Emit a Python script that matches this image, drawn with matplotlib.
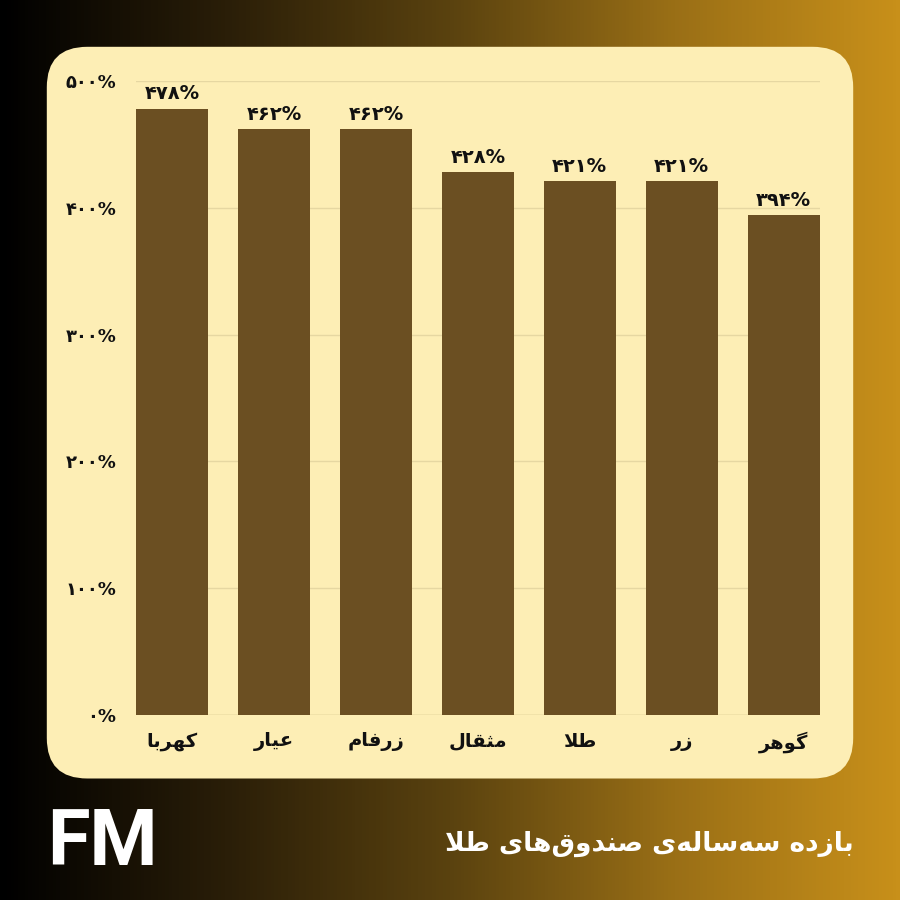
import numpy as np
import matplotlib
matplotlib.use('Agg')
import matplotlib.pyplot as plt
from matplotlib.colors import LinearSegmentedColormap
from matplotlib.patches import FancyBboxPatch

# داده‌ها
funds = ['کهربا', 'عیار', 'زرفام', 'مثقال', 'طلا', 'زر', 'گوهر']
returns = [478, 462, 462, 428, 421, 421, 394]
yticks = [0, 100, 200, 300, 400, 500]
title = 'بازده سه‌ساله‌ی صندوق‌های طلا'
logo = 'FM'

# شکل‌دهی ساده حروف فارسی (isolated, final, initial, medial)
FORMS = {
    'ا': ('\uFE8D', '\uFE8E', None, None),
    'ب': ('\uFE8F', '\uFE90', '\uFE91', '\uFE92'),
    'ث': ('\uFE99', '\uFE9A', '\uFE9B', '\uFE9C'),
    'د': ('\uFEA9', '\uFEAA', None, None),
    'ر': ('\uFEAD', '\uFEAE', None, None),
    'ز': ('\uFEAF', '\uFEB0', None, None),
    'س': ('\uFEB1', '\uFEB2', '\uFEB3', '\uFEB4'),
    'ص': ('\uFEB9', '\uFEBA', '\uFEBB', '\uFEBC'),
    'ط': ('\uFEC1', '\uFEC2', '\uFEC3', '\uFEC4'),
    'ع': ('\uFEC9', '\uFECA', '\uFECB', '\uFECC'),
    'ف': ('\uFED1', '\uFED2', '\uFED3', '\uFED4'),
    'ق': ('\uFED5', '\uFED6', '\uFED7', '\uFED8'),
    'ل': ('\uFEDD', '\uFEDE', '\uFEDF', '\uFEE0'),
    'م': ('\uFEE1', '\uFEE2', '\uFEE3', '\uFEE4'),
    'ن': ('\uFEE5', '\uFEE6', '\uFEE7', '\uFEE8'),
    'ه': ('\uFEE9', '\uFEEA', '\uFEEB', '\uFEEC'),
    'و': ('\uFEED', '\uFEEE', None, None),
    'ک': ('\uFB8E', '\uFB8F', '\uFB90', '\uFB91'),
    'گ': ('\uFB92', '\uFB93', '\uFB94', '\uFB95'),
    'ی': ('\uFBFC', '\uFBFD', '\uFBFE', '\uFBFF'),
}


def fa(text):
    out = []
    i = 0
    n = len(text)
    while i < n:
        c = text[i]
        prev = text[i - 1] if i > 0 else ''
        joins_prev = prev in FORMS and FORMS[prev][2] is not None
        if c == 'ل' and i + 1 < n and text[i + 1] == 'ا':
            out.append('\uFEFC' if joins_prev else '\uFEFB')
            i += 2
            continue
        if c not in FORMS:
            if c != '\u200c':
                out.append(c)
            i += 1
            continue
        nxt = text[i + 1] if i + 1 < n else ''
        iso, fin, ini, med = FORMS[c]
        joins_next = ini is not None and nxt in FORMS
        if joins_prev and joins_next:
            out.append(med)
        elif joins_prev:
            out.append(fin)
        elif joins_next:
            out.append(ini)
        else:
            out.append(iso)
        i += 1
    return ''.join(out[::-1])


def fa_num(v):
    return str(v).translate(str.maketrans('0123456789', '۰۱۲۳۴۵۶۷۸۹')) + '%'


fig = plt.figure(figsize=(9, 9), dpi=100)

# پس‌زمینه گرادیان
bg = fig.add_axes([0, 0, 1, 1], zorder=0)
cmap = LinearSegmentedColormap.from_list('bg', ['#000000', '#2a1e08', '#5a420f', '#9a6f16', '#c8901a'])
bg.imshow(np.linspace(0, 1, 256)[None, :], cmap=cmap, aspect='auto', extent=[0, 1, 0, 1])
bg.set_xlim(0, 1)
bg.set_ylim(0, 1)
bg.axis('off')

panel = FancyBboxPatch((0.052 + 0.045, 0.135 + 0.045), 0.896 - 0.09, 0.813 - 0.09,
                       boxstyle='round,pad=0.045', transform=fig.transFigure,
                       facecolor='#fdeeb5', edgecolor='none', zorder=1)
bg.add_patch(panel)

ax = fig.add_axes([0.151, 0.2056, 0.76, 0.7044], zorder=2)
ax.patch.set_alpha(0)
x = np.arange(len(funds))
ax.bar(x, returns, width=0.71, color='#6b4f22', zorder=3)
ax.set_xlim(-0.355, len(funds) - 0.645)
ax.set_ylim(0, 500)
ax.set_yticks(yticks)
ax.set_yticklabels([fa_num(t) for t in yticks], fontsize=13, fontweight='bold', color='#111111')
ax.set_xticks(x)
ax.set_xticklabels([fa(f) for f in funds], fontsize=14, fontweight='bold', color='#111111')
ax.tick_params(length=0)
ax.tick_params(axis='y', pad=14)
ax.tick_params(axis='x', pad=12)
ax.grid(axis='y', color='#e6d7a2', linewidth=1, zorder=0)
for s in ax.spines.values():
    s.set_visible(False)
ax.axhline(0, color='#d9c68c', linewidth=1, zorder=2)

for xi, v in zip(x, returns):
    ax.annotate(fa_num(v), (xi, v), xytext=(0, 4), textcoords='offset points',
                ha='center', va='bottom', fontsize=14, fontweight='bold', color='#111111')

fig.text(0.052, 0.039, logo, fontsize=56, fontweight='bold', color='white',
         family=['Roboto', 'DejaVu Sans'], ha='left', va='baseline')
fig.text(0.948, 0.055, fa(title), fontsize=19, fontweight='bold', color='white',
         ha='right', va='baseline')

fig.savefig('out.png', dpi=100)
